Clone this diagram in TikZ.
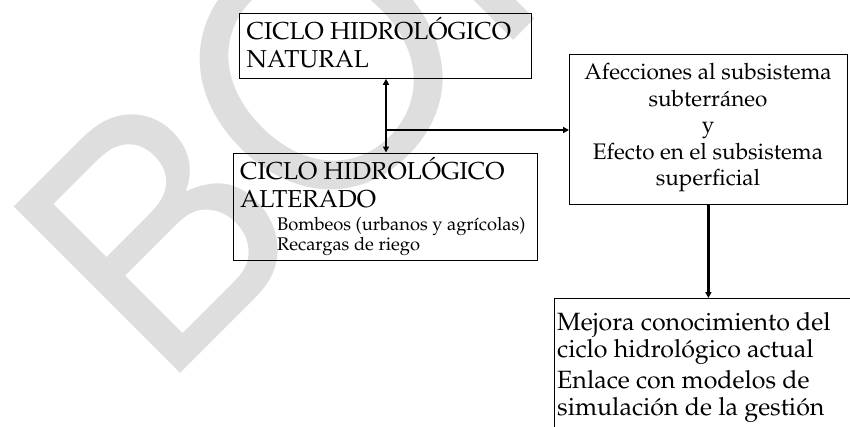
\documentclass[tikz,border=0pt]{standalone}
\usepackage[T1]{fontenc}
\usepackage{mathpazo}
\usepackage{helvet}
\usetikzlibrary{arrows.meta,calc}
\begin{document}
\begin{tikzpicture}[x=1pt,y=-1pt,
  box/.style={draw, line width=0.8pt, inner sep=0pt, anchor=north west},
  tip/.tip={Triangle[length=6pt,width=6pt]},
  conn/.style={line width=2.8pt, -tip},
  bigtext/.style={inner sep=0pt, font=\fontsize{24.5}{28}\selectfont},
  midtext/.style={inner sep=0pt, font=\fontsize{22.5}{26.5}\selectfont},
  lowtext/.style={inner sep=0pt, font=\fontsize{25}{27}\selectfont},
  smalltext/.style={inner sep=0pt, font=\fontsize{18.3}{20}\selectfont},
  watermark/.style={inner sep=0pt, anchor=base west, rotate=45, text=black!13,
    font=\fontsize{323}{323}\sffamily\selectfont}]
\useasboundingbox (0,0) rectangle (850,426);
\clip (0,0) rectangle (850,426);
% watermark
\node[watermark] (wm) at (162,392) {BORRADOR};
% boxes
\node[box, minimum width=292pt, minimum height=65pt] (b1) at (239,13) {};
\node[box, minimum width=303.5pt, minimum height=107pt] (b2) at (233,152.5) {};
\node[box, minimum width=278pt, minimum height=150pt] (b3) at (569,54) {};
\node[box, minimum width=330pt, minimum height=200pt] (b4) at (554,298) {};
% texts (anchored at the baseline of their last line)
\node[bigtext, anchor=base west, align=left] (t1) at (246.5,67.5) {CICLO HIDROL\'OGICO\\NATURAL};
\node[bigtext, anchor=base west, align=left] (t2) at (240,207) {CICLO HIDROL\'OGICO\\ALTERADO};
\node[smalltext, anchor=base west, align=left] (t2b) at (277,250) {Bombeos (urbanos y agr\'{\i}colas)\\Recargas de riego};
\node[midtext, anchor=base, align=center] (t3) at (708,185.5) {Afecciones al subsistema\\subterr\'aneo\\y\\Efecto en el subsistema\\superficial};
\node[lowtext, anchor=base west, align=left] (t4) at (557,415) {Mejora conocimiento del\\ciclo hidrol\'ogico actual\\[4pt]Enlace con modelos de\\simulaci\'on de la gesti\'on};
% connectors
\coordinate (j) at (386,130);
\draw[line width=2.8pt, tip-tip] (b2.north -| j) -- (b1.south -| j);
\draw[conn] (j) -- (j -| b3.west);
\draw[conn] (b3.south) -- (b3.south |- b4.north);
\end{tikzpicture}
\end{document}
